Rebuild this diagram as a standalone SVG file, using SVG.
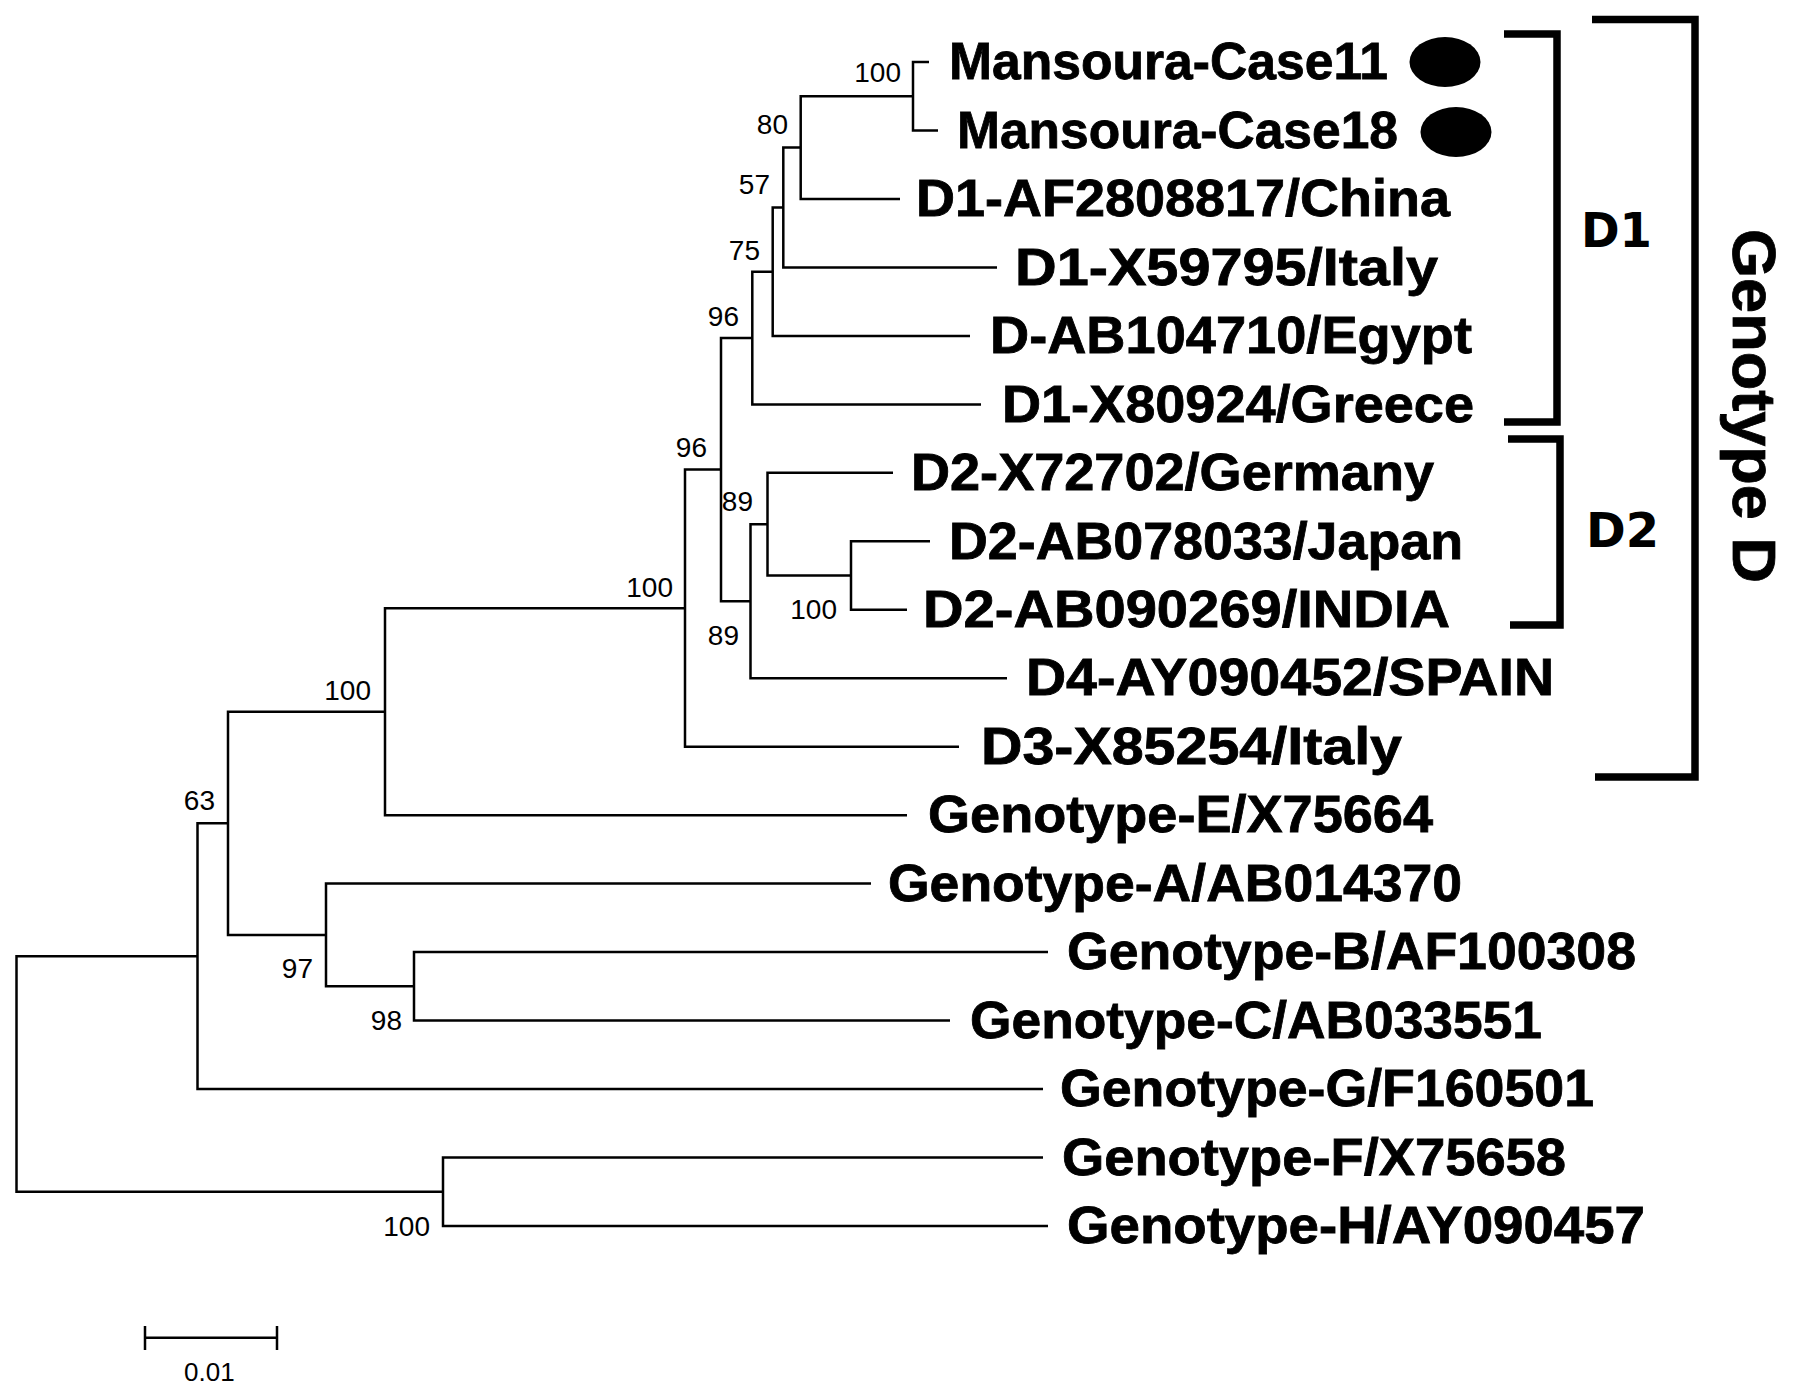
<svg xmlns="http://www.w3.org/2000/svg" width="1795" height="1396" viewBox="0 0 1795 1396">
<style>
.e{fill:none;stroke:#000;stroke-width:2.5;stroke-linejoin:miter}
.br{fill:none;stroke:#000;stroke-width:7.5;stroke-linejoin:miter}
.lab{font-family:"Liberation Sans",Arial,sans-serif;font-weight:bold;font-size:52px;fill:#000;stroke:#000;stroke-width:0.8}
.bs{font-family:"Liberation Sans",Arial,sans-serif;font-size:28px;fill:#000;text-anchor:end}
.sub{font-family:"DejaVu Sans",Verdana,sans-serif;font-weight:bold;font-size:48px;fill:#000}
.gd{font-family:"Liberation Sans",Arial,sans-serif;font-weight:bold;font-size:62px;fill:#000;stroke:#000;stroke-width:0.8}
.sc{font-family:"Liberation Sans",Arial,sans-serif;font-size:26px;fill:#000}
</style>
<rect width="1795" height="1396" fill="#fff"/>
<g id="connectors">
<path class="e" d="M197.5 956.2 H16.5 V1191.8 H443"/>
<path class="e" d="M228 823.3 H197.5 V1089.1 H1043"/>
<path class="e" d="M385 711.7 H228 V935 H326"/>
<path class="e" d="M685 608.2 H385 V815.2 H907"/>
<path class="e" d="M721 469.6 H685 V746.7 H959"/>
<path class="e" d="M752.3 338 H721 V601.2 H750.5"/>
<path class="e" d="M772.7 271.7 H752.3 V404.4 H981"/>
<path class="e" d="M783.3 207.5 H772.7 V335.9 H970"/>
<path class="e" d="M800.7 147.6 H783.3 V267.4 H997"/>
<path class="e" d="M913 96.25 H800.7 V198.9 H900"/>
<path class="e" d="M929 62 H913 V130.5 H938"/>
<path class="e" d="M767.5 524.2 H750.5 V678.2 H1007"/>
<path class="e" d="M893 472.8 H767.5 V575.5 H851"/>
<path class="e" d="M930 541.3 H851 V609.8 H907"/>
<path class="e" d="M871 883.6 H326 V986.3 H414"/>
<path class="e" d="M1048 952.1 H414 V1020.6 H950"/>
<path class="e" d="M1043 1157.5 H443 V1226 H1048"/>
</g>
<g id="bootstrap">
<text class="bs" x="901" y="82">100</text>
<text class="bs" x="788" y="134">80</text>
<text class="bs" x="770" y="194">57</text>
<text class="bs" x="760" y="260">75</text>
<text class="bs" x="739" y="326">96</text>
<text class="bs" x="707" y="457">96</text>
<text class="bs" x="753" y="511">89</text>
<text class="bs" x="837" y="619">100</text>
<text class="bs" x="739" y="645">89</text>
<text class="bs" x="673" y="597">100</text>
<text class="bs" x="371" y="700">100</text>
<text class="bs" x="215" y="810">63</text>
<text class="bs" x="313" y="978">97</text>
<text class="bs" x="402" y="1030">98</text>
<text class="bs" x="430" y="1236">100</text>
</g>
<g id="leaf-Case11"><text class="lab" x="949" y="79" textLength="439" lengthAdjust="spacingAndGlyphs">Mansoura-Case11</text><ellipse cx="1445" cy="62" rx="35.5" ry="25" fill="#000"/></g>
<g id="leaf-Case18"><text class="lab" x="957" y="147.5" textLength="441" lengthAdjust="spacingAndGlyphs">Mansoura-Case18</text><ellipse cx="1456" cy="132" rx="35.5" ry="25" fill="#000"/></g>
<g id="leaf-China"><text class="lab" x="916" y="216" textLength="534" lengthAdjust="spacingAndGlyphs">D1-AF2808817/China</text></g>
<g id="leaf-Italy1"><text class="lab" x="1015" y="284.5" textLength="423" lengthAdjust="spacingAndGlyphs">D1-X59795/Italy</text></g>
<g id="leaf-Egypt"><text class="lab" x="990" y="353" textLength="482" lengthAdjust="spacingAndGlyphs">D-AB104710/Egypt</text></g>
<g id="leaf-Greece"><text class="lab" x="1002" y="421.5" textLength="472" lengthAdjust="spacingAndGlyphs">D1-X80924/Greece</text></g>
<g id="leaf-Germany"><text class="lab" x="911" y="490" textLength="523" lengthAdjust="spacingAndGlyphs">D2-X72702/Germany</text></g>
<g id="leaf-Japan"><text class="lab" x="949" y="558.5" textLength="514" lengthAdjust="spacingAndGlyphs">D2-AB078033/Japan</text></g>
<g id="leaf-India"><text class="lab" x="923" y="627" textLength="527" lengthAdjust="spacingAndGlyphs">D2-AB090269/INDIA</text></g>
<g id="leaf-Spain"><text class="lab" x="1026" y="695" textLength="528" lengthAdjust="spacingAndGlyphs">D4-AY090452/SPAIN</text></g>
<g id="leaf-Italy3"><text class="lab" x="981" y="763.5" textLength="421" lengthAdjust="spacingAndGlyphs">D3-X85254/Italy</text></g>
<g id="leaf-E"><text class="lab" x="928" y="832" textLength="505" lengthAdjust="spacingAndGlyphs">Genotype-E/X75664</text></g>
<g id="leaf-A"><text class="lab" x="888" y="900.5" textLength="574" lengthAdjust="spacingAndGlyphs">Genotype-A/AB014370</text></g>
<g id="leaf-B"><text class="lab" x="1067" y="969" textLength="569" lengthAdjust="spacingAndGlyphs">Genotype-B/AF100308</text></g>
<g id="leaf-C"><text class="lab" x="970" y="1037.5" textLength="572" lengthAdjust="spacingAndGlyphs">Genotype-C/AB033551</text></g>
<g id="leaf-G"><text class="lab" x="1060" y="1106" textLength="534" lengthAdjust="spacingAndGlyphs">Genotype-G/F160501</text></g>
<g id="leaf-F"><text class="lab" x="1062" y="1174.5" textLength="504" lengthAdjust="spacingAndGlyphs">Genotype-F/X75658</text></g>
<g id="leaf-H"><text class="lab" x="1067" y="1243" textLength="578" lengthAdjust="spacingAndGlyphs">Genotype-H/AY090457</text></g>
<g id="bracket-D1"><path class="br" d="M1504 34 H1557 V422 H1504"/><text class="sub" x="1581" y="247" textLength="71" lengthAdjust="spacingAndGlyphs">D1</text></g>
<g id="bracket-D2"><path class="br" d="M1508 439 H1560 V625 H1510"/><text class="sub" x="1586" y="547" textLength="73" lengthAdjust="spacingAndGlyphs">D2</text></g>
<g id="bracket-GenotypeD"><path class="br" d="M1592 19.5 H1695 V777 H1595"/><text class="gd" transform="translate(1733 229) rotate(90)" x="0" y="0" textLength="354" lengthAdjust="spacingAndGlyphs">Genotype D</text></g>
<g id="scalebar"><path class="e" d="M145 1337.7 H277 M145 1326 V1350 M277 1326 V1350"/><text class="sc" x="184" y="1381">0.01</text></g>
</svg>
